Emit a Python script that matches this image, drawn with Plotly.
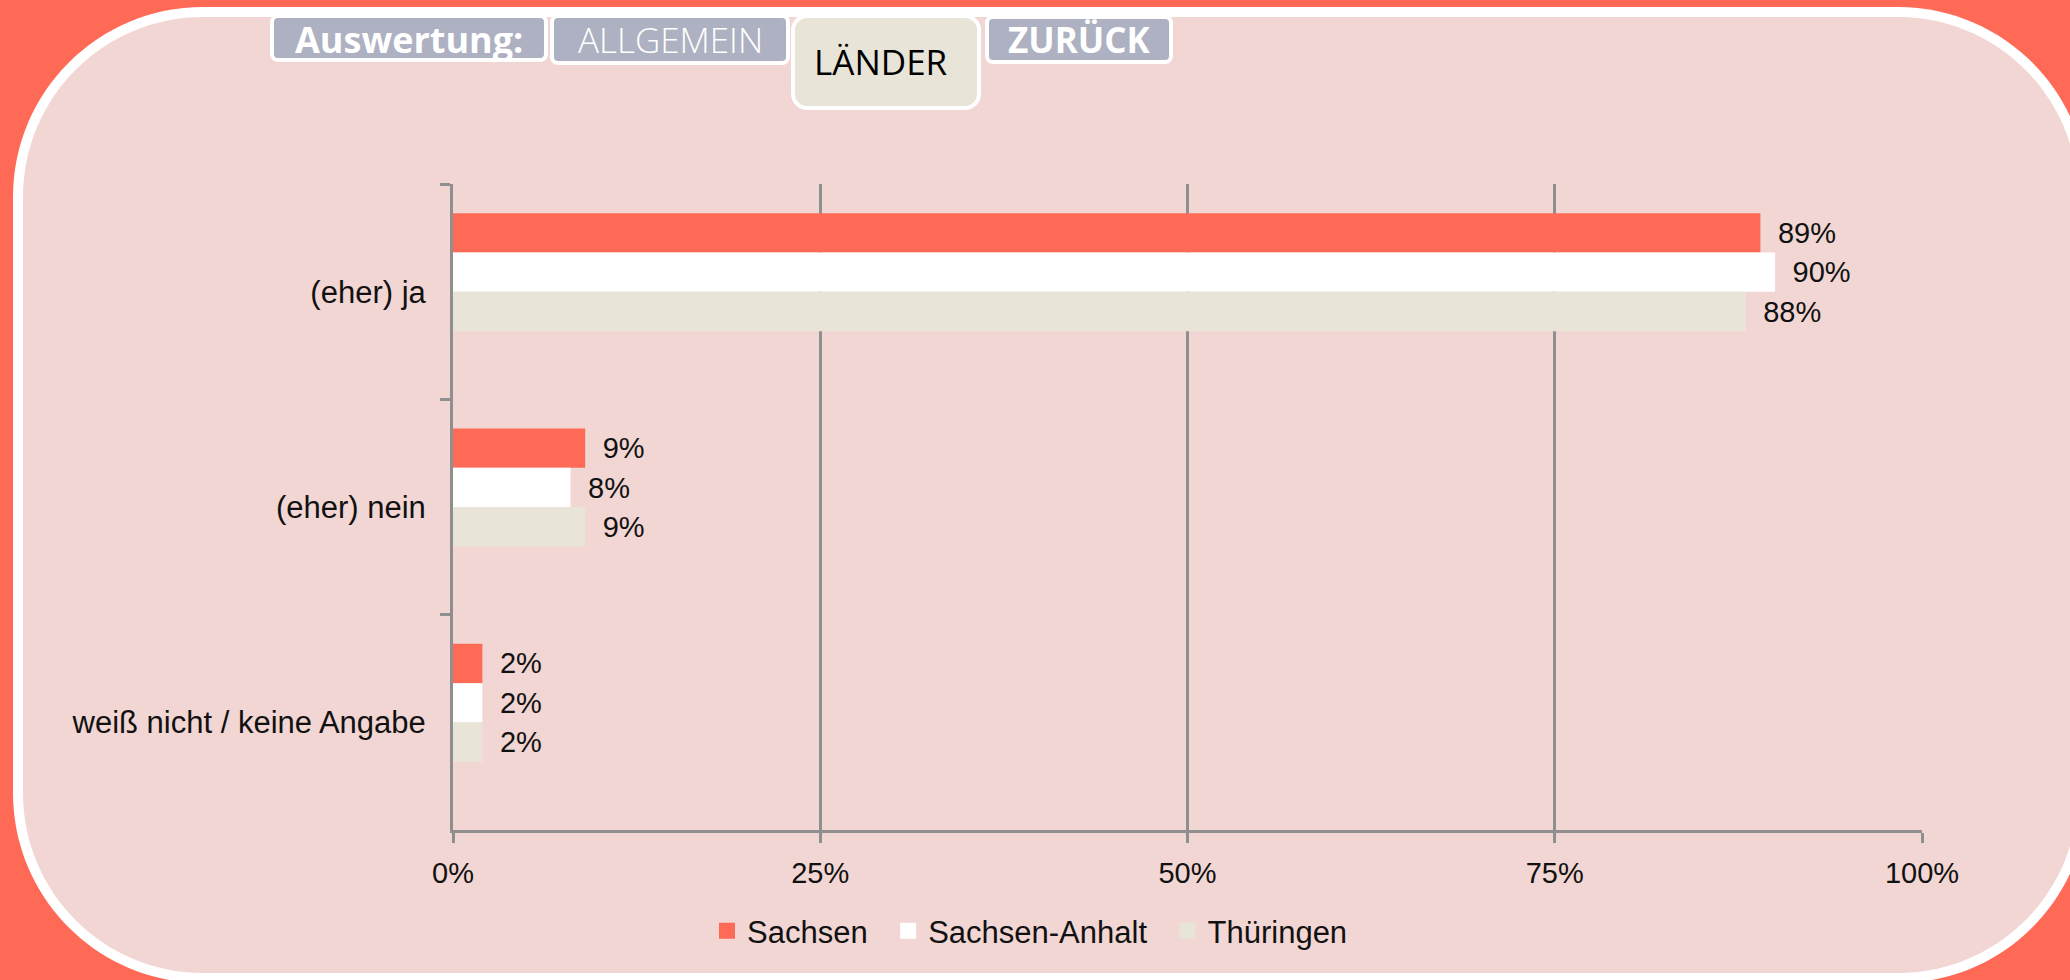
import plotly.graph_objects as go

categories = ["(eher) ja", "(eher) nein", "weiß nicht / keine Angabe"]
series_names = ["Sachsen", "Sachsen-Anhalt", "Thüringen"]
sachsen = [0.89, 0.09, 0.02]
sachsen_anhalt = [0.90, 0.08, 0.02]
thueringen = [0.88, 0.09, 0.02]
x_tickvals = [0, 0.25, 0.5, 0.75, 1.0]
x_ticktext = ["0%", "25%", "50%", "75%", "100%"]
nav_labels = ["Auswertung:", "ALLGEMEIN", "LÄNDER", "ZURÜCK"]

W, H = 2070, 980
ML, MR, MT, MB = 453, 148, 184, 150
PW, PH = W - ML - MR, H - MT - MB

CORAL = "#FF6A57"
PINK = "#F2D6D3"
BEIGE = "#E8E5D8"
GREY_BTN = "#ADB1C1"
AXIS = "#8F8F8F"
FONT = "Liberation Sans, Arial, sans-serif"
BTN_FONT = "Open Sans, Noto Sans, sans-serif"

# bar geometry (in category units): bars sit slightly above the band centre
BAR_W = 0.1827
GROUP_START = -0.3646


def px(x):
    return (x - ML) / PW


def py(y):
    return (H - MB - y) / PH


def rrect(x0, y0, x1, y1, r):
    k = 0.5523 * r
    pts = [
        ("M", [(x0 + r, y0)]),
        ("L", [(x1 - r, y0)]),
        ("C", [(x1 - r + k, y0), (x1, y0 + r - k), (x1, y0 + r)]),
        ("L", [(x1, y1 - r)]),
        ("C", [(x1, y1 - r + k), (x1 - r + k, y1), (x1 - r, y1)]),
        ("L", [(x0 + r, y1)]),
        ("C", [(x0 + r - k, y1), (x0, y1 - r + k), (x0, y1 - r)]),
        ("L", [(x0, y0 + r)]),
        ("C", [(x0, y0 + r - k), (x0 + r - k, y0), (x0 + r, y0)]),
    ]
    s = ""
    for cmd, ps in pts:
        s += cmd + " ".join(f"{px(a):.5f},{py(b):.5f}" for a, b in ps) + " "
    return s + "Z"


fig = go.Figure()
colors = [CORAL, "#FFFFFF", BEIGE]
legend_names = [series_names[0] + "\u2002", series_names[1] + "\u2002", series_names[2]]
for i, (name, vals, col) in enumerate(zip(series_names, [sachsen, sachsen_anhalt, thueringen], colors)):
    fig.add_trace(go.Bar(
        name=name, y=categories, x=vals, orientation="h",
        width=BAR_W, offset=GROUP_START + i * BAR_W,
        marker=dict(color=col, line=dict(width=0)),
        texttemplate="\u2002%{x:.0%}", textposition="outside",
        textfont=dict(family=FONT, size=29, color="#111111"),
        constraintext="none", cliponaxis=False, showlegend=False,
    ))
# legend entries (empty traces, only for a larger legend key)
for lname, col in zip(legend_names, colors):
    fig.add_trace(go.Bar(
        name=lname, y=[categories[0]], x=[None], orientation="h",
        marker=dict(color=col, line=dict(color=col, width=4)),
        showlegend=True,
    ))

shapes = []
shapes.append(dict(type="path", xref="paper", yref="paper", layer="below",
                   path=rrect(13, 7, 2088, 983, 190), fillcolor="#FFFFFF", line=dict(width=0)))
shapes.append(dict(type="path", xref="paper", yref="paper", layer="below",
                   path=rrect(23, 17, 2078, 973, 180), fillcolor=PINK, line=dict(width=0)))

buttons = [
    (272, 16, 546, 60, 6, GREY_BTN),
    (552, 16, 788, 63, 6, GREY_BTN),
    (793, 16, 979, 108, 14, BEIGE),
    (987, 17, 1171, 62, 6, GREY_BTN),
]
for (x0, y0, x1, y1, r, c) in buttons:
    shapes.append(dict(type="path", xref="paper", yref="paper", layer="above",
                       path=rrect(x0, y0, x1, y1, r), fillcolor=c,
                       line=dict(color="#FFFFFF", width=4)))

annotations = []
btn_text = [
    (409, 39, nav_labels[0], "#FFFFFF", 700, 36),
    (670, 39, nav_labels[1], "#FFFFFF", 300, 35),
    (881, 61, nav_labels[2], "#000000", 400, 35),
    (1079, 39, nav_labels[3], "#FFFFFF", 700, 35),
]
for (x, y, t, c, w, s) in btn_text:
    annotations.append(dict(x=px(x), y=py(y), xref="paper", yref="paper", text=t,
                            showarrow=False, xanchor="center", yanchor="middle",
                            font=dict(family=BTN_FONT, size=s, color=c, weight=w)))

fig.update_layout(
    width=W, height=H,
    margin=dict(l=ML, r=MR, t=MT, b=MB, pad=0),
    paper_bgcolor=CORAL, plot_bgcolor="rgba(0,0,0,0)",
    barmode="group", bargap=0.45, bargroupgap=0,
    shapes=shapes, annotations=annotations,
    showlegend=True,
    legend=dict(orientation="h", x=px(1030), xanchor="center", y=py(931), yanchor="middle",
                font=dict(family=FONT, size=31, color="#111111"),
                itemwidth=30,
                bgcolor="rgba(0,0,0,0)", traceorder="normal"),
    xaxis=dict(range=[0, 1], tickvals=x_tickvals, ticktext=x_ticktext,
               showgrid=True, gridcolor=AXIS, gridwidth=3,
               showline=True, linecolor=AXIS, linewidth=3,
               ticks="outside", ticklen=10, tickwidth=3, tickcolor=AXIS,
               tickfont=dict(family=FONT, size=29, color="#111111"),
               ticklabelstandoff=5, zeroline=False, fixedrange=True),
    yaxis=dict(autorange="reversed", type="category",
               showline=True, linecolor=AXIS, linewidth=3,
               ticks="outside", ticklen=10, tickwidth=3, tickcolor=AXIS,
               tickson="boundaries", showgrid=False,
               tickfont=dict(family=FONT, size=31, color="#111111"),
               ticklabelstandoff=18, fixedrange=True),
    hovermode=False,
)

fig.write_html(
    "out.html",
    config={"displayModeBar": False},
    post_script="document.body.style.margin='0px';document.body.style.overflow='hidden';",
)
